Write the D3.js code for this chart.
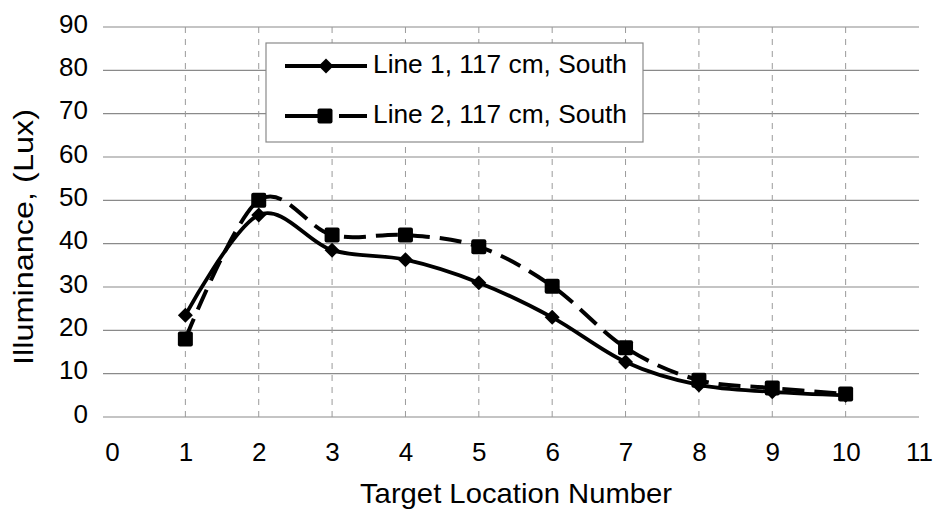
<!DOCTYPE html>
<html>
<head>
<meta charset="utf-8">
<script src="https://cdn.jsdelivr.net/npm/d3@7"></script>
<style>
  body { margin: 0; background: #fff; }
  svg { display: block; font-family: "Liberation Sans", Arial, sans-serif; }
</style>
</head>
<body>
<script>
const locations = [1, 2, 3, 4, 5, 6, 7, 8, 9, 10];
const line1 = [23.5, 46.6, 38.5, 36.3, 31, 23, 12.7, 7.4, 5.8, 5];
const line2 = [18, 50, 42, 42, 39.3, 30.2, 16, 8.5, 6.7, 5.3];
const seriesNames = ['Line 1, 117 cm, South', 'Line 2, 117 cm, South'];
const xTicks = d3.range(0, 12);
const yTicks = d3.range(0, 100, 10);

const W = 935, H = 512;
const svg = d3.select('body').append('svg').attr('width', W).attr('height', H);

const x = d3.scaleLinear().domain([0, 11]).range([112, 919]);
const y = d3.scaleLinear().domain([0, 90]).range([417, 27]);

// gridlines
svg.append('g').selectAll('line')
   .data(yTicks)
   .join('line')
   .attr('x1', x(0) - 9).attr('x2', x(11))
   .attr('y1', d => y(d)).attr('y2', d => y(d))
   .attr('stroke', '#8a8a8a').attr('stroke-width', 1.2);

svg.append('g').selectAll('line')
   .data(locations)
   .join('line')
   .attr('x1', d => x(d)).attr('x2', d => x(d))
   .attr('y1', y(90)).attr('y2', y(0) + 6)
   .attr('stroke', '#9a9a9a').attr('stroke-width', 1)
   .attr('stroke-dasharray', '6,6');

// axes (labels only)
const yAxis = svg.append('g')
   .attr('transform', `translate(${x(0)},0)`)
   .call(d3.axisLeft(y).tickValues(yTicks).tickSize(0).tickPadding(24));
const xAxis = svg.append('g')
   .attr('transform', `translate(0,${y(0)})`)
   .call(d3.axisBottom(x).tickValues(xTicks).tickSize(0).tickPadding(26));
[yAxis, xAxis].forEach(g => {
  g.select('.domain').remove();
  g.selectAll('text').attr('font-size', 26).attr('fill', '#000')
   .attr('font-family', '"Liberation Sans", Arial, sans-serif');
});
yAxis.selectAll('text').attr('dy', '0.2em');

// axis titles
svg.append('text')
   .attr('x', 516).attr('y', 503)
   .attr('text-anchor', 'middle')
   .attr('font-size', 28)
   .attr('textLength', 312)
   .attr('lengthAdjust', 'spacingAndGlyphs')
   .text('Target Location Number');

svg.append('text')
   .attr('transform', 'translate(33,237) rotate(-90)')
   .attr('text-anchor', 'middle')
   .attr('font-size', 28)
   .attr('textLength', 256)
   .attr('lengthAdjust', 'spacingAndGlyphs')
   .text('Illuminance, (Lux)');

// lines
const line = d3.line()
   .x((d, i) => x(locations[i]))
   .y(d => y(d))
   .curve(d3.curveCardinal.tension(0));

svg.append('path')
   .attr('d', line(line2))
   .attr('fill', 'none').attr('stroke', '#000')
   .attr('stroke-width', 4)
   .attr('stroke-dasharray', '22,10');

svg.append('path')
   .attr('d', line(line1))
   .attr('fill', 'none').attr('stroke', '#000')
   .attr('stroke-width', 3.8);

const dh = 7.5;
const diamond = `M0,${-dh}L${dh},0L0,${dh}L${-dh},0Z`;
const square = 15;

svg.append('g').selectAll('path')
   .data(line1)
   .join('path')
   .attr('transform', (d, i) => `translate(${x(locations[i])},${y(d)})`)
   .attr('d', diamond)
   .attr('fill', '#000');

svg.append('g').selectAll('rect')
   .data(line2)
   .join('rect')
   .attr('x', (d, i) => x(locations[i]) - square / 2)
   .attr('y', d => y(d) - square / 2)
   .attr('width', square).attr('height', square)
   .attr('rx', 2)
   .attr('fill', '#000');

// legend
const legend = svg.append('g');
legend.append('rect')
   .attr('x', 266).attr('y', 43)
   .attr('width', 377).attr('height', 99)
   .attr('fill', '#fff').attr('stroke', '#8a8a8a').attr('stroke-width', 1.2);

const rows = [66, 116];
legend.append('line')
   .attr('x1', 285).attr('x2', 367).attr('y1', rows[0]).attr('y2', rows[0])
   .attr('stroke', '#000').attr('stroke-width', 3.8);
legend.append('path')
   .attr('transform', `translate(326,${rows[0]})`)
   .attr('d', diamond).attr('fill', '#000');

legend.append('line')
   .attr('x1', 285).attr('x2', 367).attr('y1', rows[1]).attr('y2', rows[1])
   .attr('stroke', '#000').attr('stroke-width', 4)
   .attr('stroke-dasharray', '45,9,30');
legend.append('rect')
   .attr('x', 325 - square / 2).attr('y', rows[1] - square / 2)
   .attr('width', square).attr('height', square).attr('rx', 2)
   .attr('fill', '#000');

legend.selectAll('text.lbl')
   .data(seriesNames)
   .join('text')
   .attr('class', 'lbl')
   .attr('x', 373)
   .attr('y', (d, i) => rows[i] + 7)
   .attr('font-size', 26)
   .attr('textLength', 254)
   .attr('lengthAdjust', 'spacingAndGlyphs')
   .text(d => d);
</script>
</body>
</html>
